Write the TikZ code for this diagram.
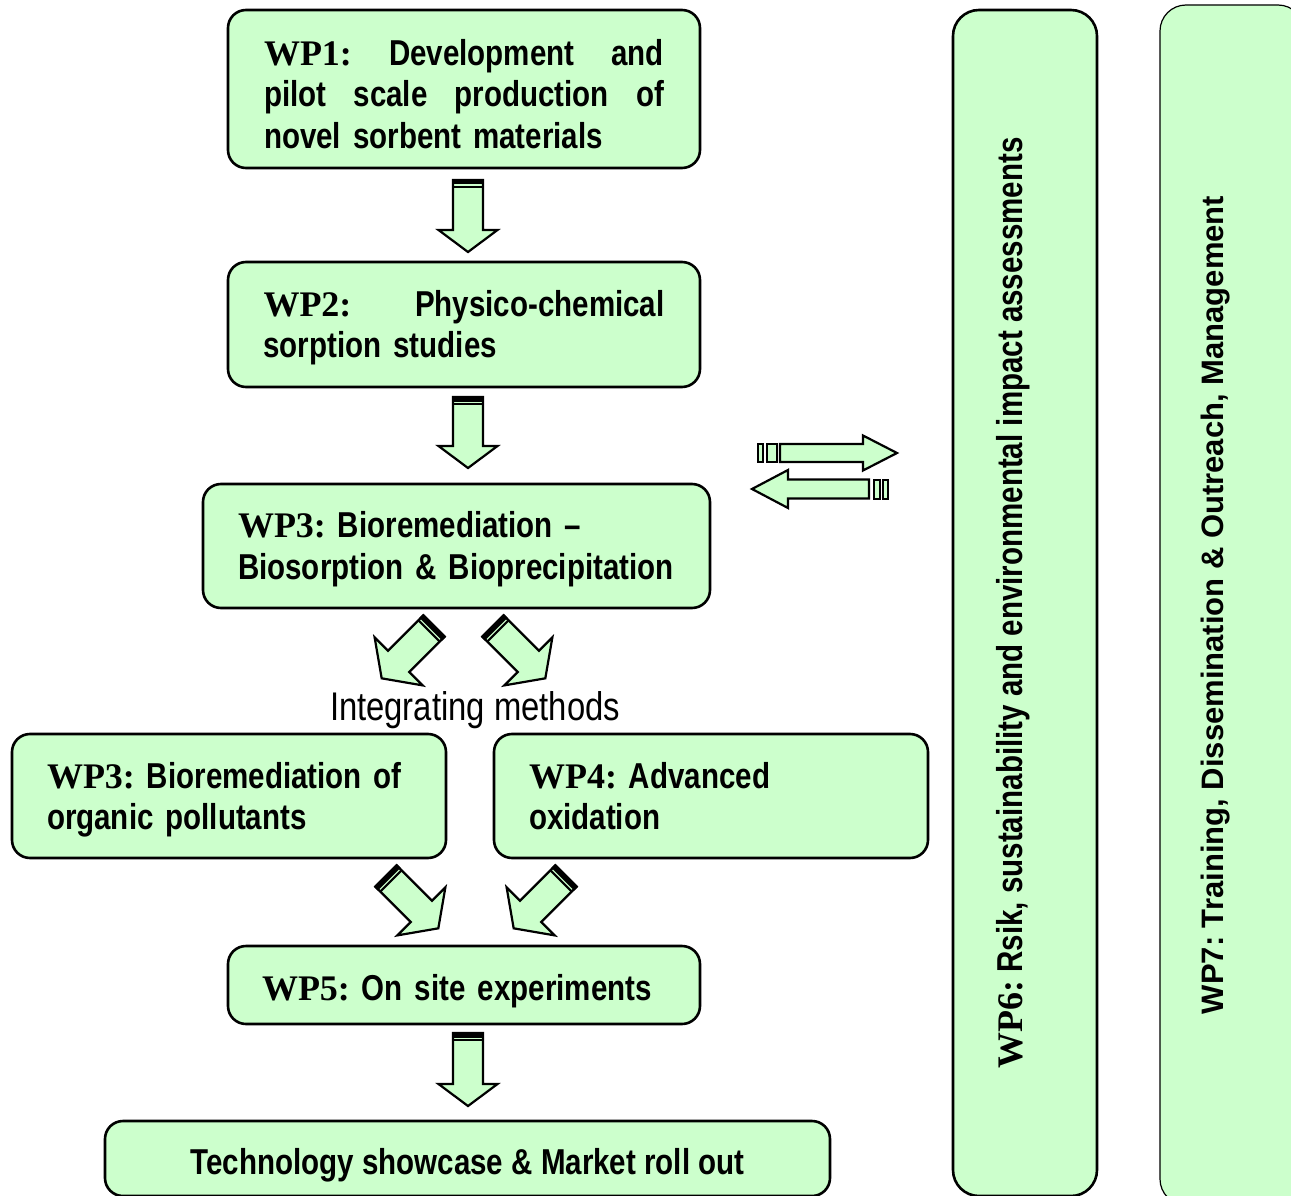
\documentclass[tikz,border=0pt]{standalone}
\usepackage{fontspec}
\newfontfamily\nar{Liberation Sans}[FakeStretch=0.82]
\newfontfamily\wpf{Liberation Serif}
\newfontfamily\arl{Liberation Sans}
\definecolor{lg}{HTML}{CCFFCC}
\frenchspacing
\tikzset{
  wpbox/.style={draw=black, fill=lg, line width=2.6pt, rounded corners=18pt, inner sep=0pt,
    align=left, font=\nar\bfseries\fontsize{36}{41.5}\selectfont},
  sidebox/.style={draw=black, fill=lg, rounded corners=26pt, inner sep=0pt, rotate=90,
    minimum height=144pt},
  arrbody/.style={draw=black, fill=lg, line width=2.2pt, line join=miter},
  stripe/.style={draw=black, fill=lg, line width=2pt},
}
% L w h a s
\newcommand\arrowshape[5]{%
  \path[arrbody] (#5,-#2) -- (#1-#4,-#2) -- (#1-#4,-#3) -- (#1,0) -- (#1-#4,#3) -- (#1-#4,#2) -- (#5,#2) -- cycle;}
% x y angle L w h a
\newcommand\bandarrow[7]{%
  \begin{scope}[shift={(#1,#2)}, rotate=#3]
    \arrowshape{#4}{#5}{#6}{#7}{0}
    \fill[black] (-1.1,-#5-1.1) rectangle (4.5,#5+1.1);
    \draw[line width=2pt] (7,-#5) -- (7,#5);
  \end{scope}}
\newcommand\wpl[1]{{\wpf\bfseries #1}}
\newcommand\jline[2]{\leavevmode\hbox to #1{#2}}
\newcommand\tl[1]{\rule{0pt}{#1pt}}
\newcommand\bl{\rule[-12.45pt]{0pt}{0pt}}
\begin{document}
\begin{tikzpicture}[x=1pt,y=-1pt]
\useasboundingbox (0,0) rectangle (1291,1196);
\clip (0,0) rectangle (1291,1196);

% boxes
\node[wpbox, minimum width=472pt, minimum height=158pt, text width=400pt] (wp1) at (464,89)
  {\jline{400pt}{\tl{47.5}\wpl{WP1:}\hfill Development\hfill and}\\
   \jline{400pt}{pilot\hfill scale\hfill production\hfill of}\\
   novel sorbent materials\bl};
\node[wpbox, minimum width=472pt, minimum height=125pt, text width=401pt] (wp2) at (464,324.5)
  {\jline{401pt}{\tl{37.5}\wpl{WP2:}\hfill Physico-chemical}\\ sorption studies\bl};
\node[wpbox, minimum width=507pt, minimum height=124pt, text width=437pt] (wp3) at (456.5,546)
  {\tl{37.5}\wpl{WP3:} Bioremediation –\\ Biosorption \& Bioprecipitation\bl};
\node[wpbox, minimum width=434pt, minimum height=124pt, text width=364pt] (wp3b) at (229,796)
  {\tl{38.5}\wpl{WP3:} Bioremediation of\\ organic pollutants\bl};
\node[wpbox, minimum width=434pt, minimum height=124pt, text width=364pt] (wp4) at (711,796)
  {\tl{38.5}\wpl{WP4:} Advanced\\ oxidation\bl};
\node[wpbox, minimum width=472pt, minimum height=78pt, text width=404pt] (wp5) at (464,985)
  {\tl{42.5}\wpl{WP5:} On site experiments\bl};
\node[wpbox, align=center, minimum width=725pt, minimum height=75pt] (tech) at (467.5,1158.5)
  {\tl{43.5}Technology showcase \& Market roll out\bl};

\node[sidebox, line width=2.6pt, minimum width=1186pt, text depth=32pt,
  font=\nar\bfseries\fontsize{36}{41.5}\selectfont] (wp6) at (1025,603)
  {\wpl{WP6:} Rsik, sustainability and environmental impact assessments};
\node[sidebox, line width=1.2pt, minimum width=1200pt, text depth=39pt,
  font=\arl\bfseries\fontsize{31}{36}\selectfont] (wp7) at (1232,605)
  {WP7: Training, Dissemination \& Outreach, Management};

\node[font=\nar\fontsize{40}{48}\selectfont, inner sep=0pt] (integ) at (475,710) {Integrating methods};

% vertical block arrows
\bandarrow{468}{180}{-90}{72}{15}{29.5}{22}
\bandarrow{468}{397}{-90}{71}{15}{29.5}{22}
\bandarrow{468}{1033}{-90}{73}{15}{29.5}{22}

% diagonal block arrows
\bandarrow{434}{626}{-135}{74}{15}{34}{24}
\bandarrow{493}{626}{-45}{74}{15}{34}{24}
\bandarrow{386}{876}{-45}{74}{15}{34}{24}
\bandarrow{566}{876}{-135}{74}{15}{34}{24}

% horizontal striped arrows
\begin{scope}[shift={(758,453)}]
  \draw[stripe] (0,-9) rectangle (5,9);
  \draw[stripe] (8.5,-9) rectangle (18.5,9);
  \arrowshape{139}{9}{17.5}{34}{22}
\end{scope}
\begin{scope}[shift={(888,489)}, rotate=180]
  \draw[stripe] (0,-9.5) rectangle (5,9.5);
  \draw[stripe] (8.5,-9.5) rectangle (14.5,9.5);
  \arrowshape{136}{9.5}{19}{36}{19}
\end{scope}
\end{tikzpicture}
\end{document}
